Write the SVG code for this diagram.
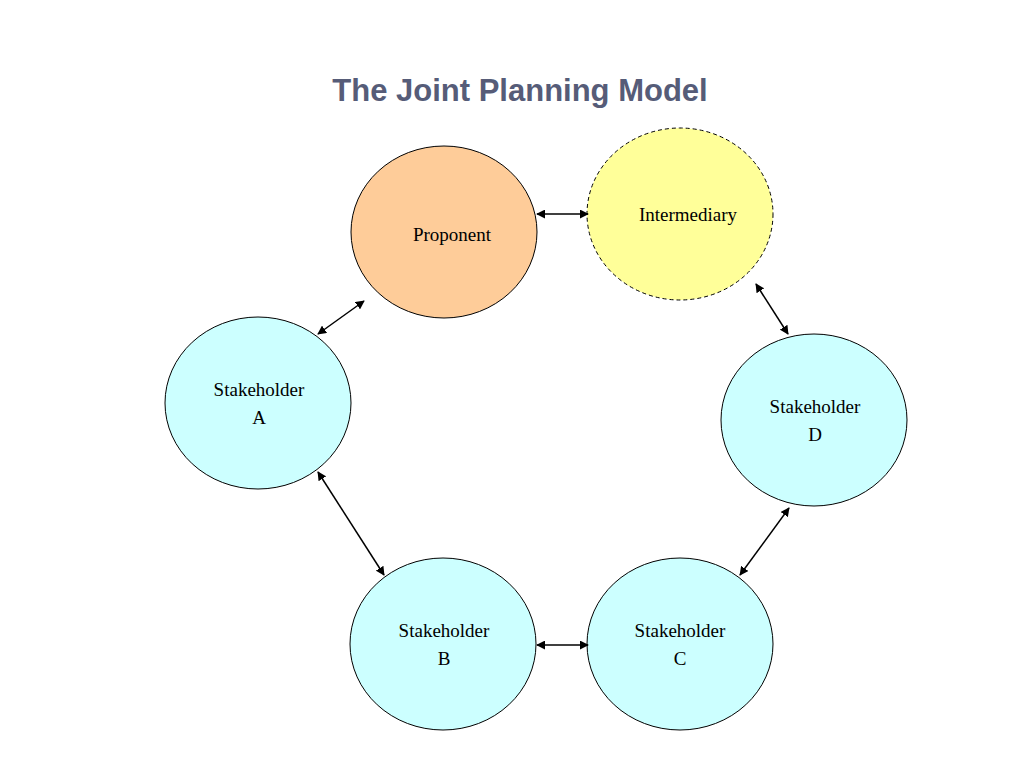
<svg xmlns="http://www.w3.org/2000/svg" width="1024" height="768" viewBox="0 0 1024 768">
<defs>
<style>
.n{stroke:#000;stroke-width:1}
.t{font-family:"Liberation Serif",serif;font-size:19px;text-anchor:middle;fill:#000}
.c{stroke:#000;stroke-width:1.5;fill:none;marker-start:url(#a);marker-end:url(#a)}
</style>
<marker id="a" viewBox="0 0 10 10" refX="9" refY="5" markerWidth="6" markerHeight="6" orient="auto-start-reverse"><path d="M0,0L10,5L0,10z" fill="#000"/></marker>
</defs>
<rect width="1024" height="768" fill="#fff"/>
<text x="520" y="101" font-family="Liberation Sans,Arial,sans-serif" font-size="31" font-weight="bold" fill="#565c78" text-anchor="middle">The Joint Planning Model</text>
<g id="proponent"><ellipse class="n" cx="444" cy="232" rx="93" ry="86" fill="#fecc99"/><text class="t" x="452" y="241">Proponent</text></g>
<g id="intermediary"><ellipse class="n" cx="680" cy="214" rx="93" ry="86" fill="#ffff99" stroke-dasharray="4,3"/><text class="t" x="688" y="221" font-size="17">Intermediary</text></g>
<g id="stakeholderA"><ellipse class="n" cx="258" cy="403" rx="93" ry="86" fill="#ccffff"/><text class="t" x="259" y="396">Stakeholder</text><text class="t" x="259" y="424">A</text></g>
<g id="stakeholderD"><ellipse class="n" cx="814" cy="420" rx="93" ry="86" fill="#ccffff"/><text class="t" x="815" y="413">Stakeholder</text><text class="t" x="815" y="441">D</text></g>
<g id="stakeholderB"><ellipse class="n" cx="443" cy="644" rx="93" ry="86" fill="#ccffff"/><text class="t" x="444" y="637">Stakeholder</text><text class="t" x="444" y="665">B</text></g>
<g id="stakeholderC"><ellipse class="n" cx="680" cy="644" rx="93" ry="86" fill="#ccffff"/><text class="t" x="680" y="637">Stakeholder</text><text class="t" x="680" y="665">C</text></g>
<g id="connectors">
<line class="c" x1="537" y1="214" x2="588" y2="214"/>
<line class="c" x1="364" y1="301" x2="318" y2="334"/>
<line class="c" x1="756" y1="284" x2="788" y2="334"/>
<line class="c" x1="318" y1="472" x2="384" y2="575"/>
<line class="c" x1="789" y1="508" x2="740" y2="575"/>
<line class="c" x1="537" y1="645" x2="588" y2="645"/>
</g>
</svg>
